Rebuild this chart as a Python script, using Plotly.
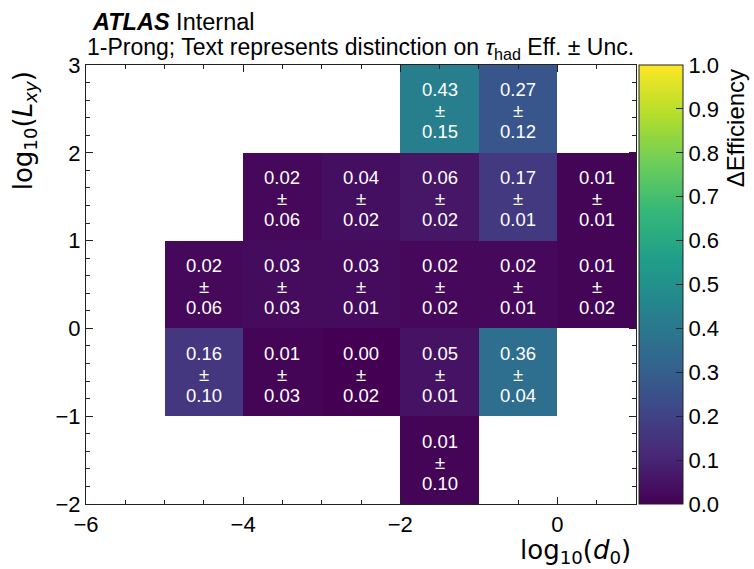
import plotly.graph_objects as go

# bin edges
x_edges = [-6, -5, -4, -3, -2, -1, 0, 1]
y_edges = [-2, -1, 0, 1, 2, 3]

N = None
# rows: y bins from -2 upward; columns: x bins from -6 rightward
eff = [
    [N, N, N,    N,    0.01, N,    N],
    [N, 0.16, 0.01, 0.00, 0.05, 0.36, N],
    [N, 0.02, 0.03, 0.03, 0.02, 0.02, 0.01],
    [N, N,    0.02, 0.04, 0.06, 0.17, 0.01],
    [N, N,    N,    N,    0.43, 0.27, N],
]
unc = [
    [N, N, N,    N,    0.10, N,    N],
    [N, 0.10, 0.03, 0.02, 0.01, 0.04, N],
    [N, 0.06, 0.03, 0.01, 0.02, 0.01, 0.02],
    [N, N,    0.06, 0.02, 0.02, 0.01, 0.01],
    [N, N,    N,    N,    0.15, 0.12, N],
]

x_centers = [(a + b) / 2 for a, b in zip(x_edges[:-1], x_edges[1:])]
y_centers = [(a + b) / 2 for a, b in zip(y_edges[:-1], y_edges[1:])]

FONT = "Liberation Sans, Arial, Helvetica, sans-serif"
MATH = "DejaVu Sans, sans-serif"

fig = go.Figure()
fig.add_trace(go.Heatmap(
    x=x_edges, y=y_edges, z=eff,
    colorscale="Viridis", zmin=0, zmax=1,
    hoverongaps=False,
    colorbar=dict(
        x=1.0055, xanchor="left", xref="paper", xpad=0, ypad=0,
        y=0, yanchor="bottom", len=1, lenmode="fraction",
        thickness=44, thicknessmode="pixels",
        outlinewidth=1, outlinecolor="#222",
        ticks="inside", ticklen=7, tickcolor="#222",
        tick0=0, dtick=0.1, tickformat=".1f",
        tickfont=dict(family=FONT, size=22, color="black"),
    ),
))

annotations = []
for i, yc in enumerate(y_centers):
    for j, xc in enumerate(x_centers):
        v = eff[i][j]
        if v is None:
            continue
        for txt, ys in ((f"{v:.2f}", 19), ("±", -2), (f"{unc[i][j]:.2f}", -23)):
            annotations.append(dict(
                x=xc, y=yc, xref="x", yref="y", yshift=ys,
                text=txt, showarrow=False,
                font=dict(family=FONT, size=18.5, color="white"),
            ))

# header
annotations.append(dict(
    xref="paper", yref="paper", x=0.007, y=1.097, xanchor="left", yanchor="middle",
    text="<b><i>ATLAS</i></b> Internal", showarrow=False,
    font=dict(family=FONT, size=23.5, color="black"),
))
annotations.append(dict(
    xref="paper", yref="paper", x=-0.002, y=1.038, xanchor="left", yanchor="middle",
    text="1-Prong; Text represents distinction on <i>τ</i><sub>had</sub> Eff. ± Unc.",
    showarrow=False,
    font=dict(family=FONT, size=23, color="black"),
))
# axis titles
annotations.append(dict(
    xref="paper", yref="paper", x=0.994, y=-0.108, xanchor="right", yanchor="middle",
    text="log<sub>10</sub>(<i>d</i><sub>0</sub>)", showarrow=False,
    font=dict(family=MATH, size=26, color="black"),
))
annotations.append(dict(
    xref="paper", yref="paper", x=-0.112, y=0.99, xanchor="center", yanchor="top",
    text="log<sub>10</sub>(<i>L</i><sub><i>xy</i></sub>)", showarrow=False, textangle=-90,
    font=dict(family=MATH, size=26, color="black"),
))
annotations.append(dict(
    xref="paper", yref="paper", x=1.18, y=0.995, xanchor="center", yanchor="top",
    text="ΔEfficiency", showarrow=False, textangle=-90,
    font=dict(family=FONT, size=24, color="black"),
))

axis_common = dict(
    showline=True, linecolor="#222", linewidth=1.2, mirror="ticks",
    ticks="inside", ticklen=7, tickcolor="#222", tickwidth=1,
    showgrid=False, zeroline=False,
    tickfont=dict(family=FONT, size=22, color="black"),
)

fig.update_layout(
    width=754, height=569,
    margin=dict(l=86, r=118, t=65, b=65),
    plot_bgcolor="white", paper_bgcolor="white",
    xaxis=dict(range=[-6, 1], tick0=-6, dtick=2, tickformat="d",
               minor=dict(ticks="inside", ticklen=4, dtick=0.5, tickcolor="#222"),
               **axis_common),
    yaxis=dict(range=[-2, 3], tick0=-2, dtick=1,
               minor=dict(ticks="inside", ticklen=4, dtick=0.2, tickcolor="#222"),
               **axis_common),
    annotations=annotations,
    showlegend=False,
)

fig.write_html("out.html")
